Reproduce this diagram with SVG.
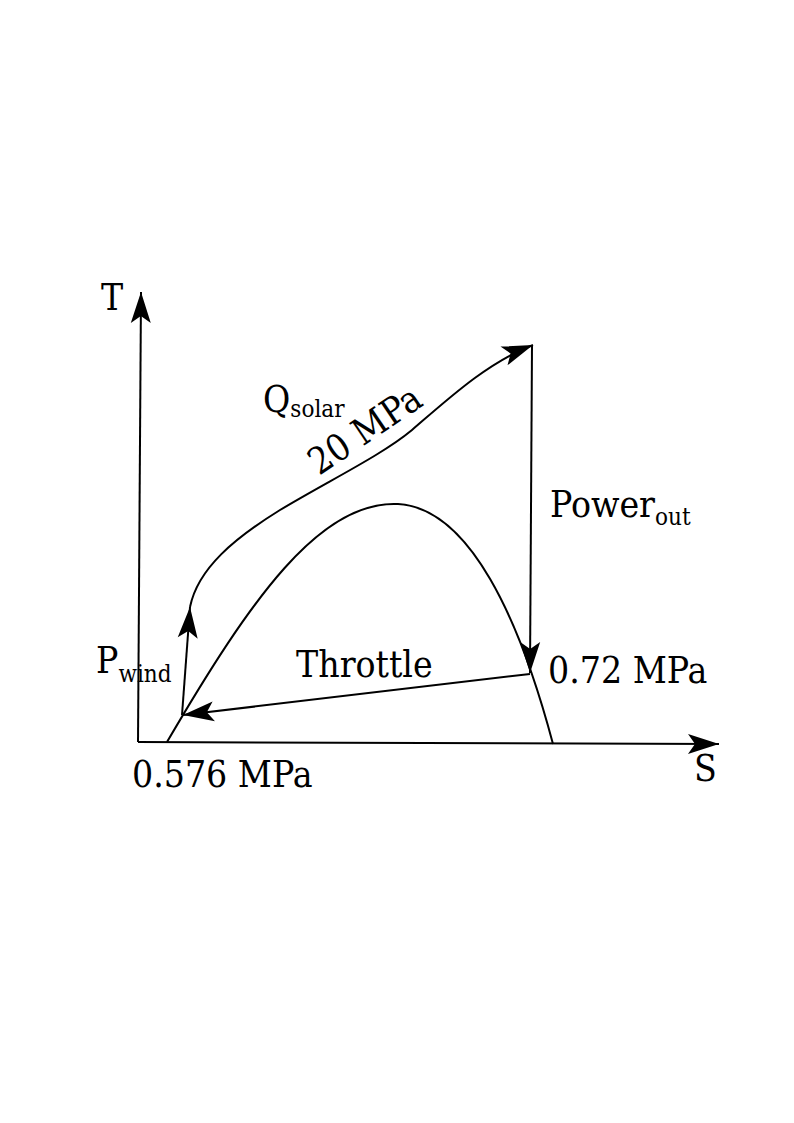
<svg xmlns="http://www.w3.org/2000/svg" width="794" height="1123" viewBox="0 0 794 1123">
<style>
.ln{fill:none;stroke:#000;stroke-width:2}
.t{font-family:"DejaVu Serif Condensed","DejaVu Serif","Liberation Serif",serif;font-stretch:condensed;font-size:37px;fill:#000}
.sub{font-size:24px}
</style>
<defs>
<marker id="ah" markerUnits="userSpaceOnUse" markerWidth="40" markerHeight="30" viewBox="-32 -15 40 30" refX="0" refY="0" orient="auto">
<path d="M0,0 L-31,-10 L-24,0 L-31,10 Z" fill="#000"/>
</marker>
</defs>
<rect width="794" height="1123" fill="#fff"/>
<g id="axes">
<path class="ln" d="M138,742 L141,292" marker-end="url(#ah)"/>
<path class="ln" d="M138,742 L719,744" marker-end="url(#ah)"/>
<text class="t" x="101" y="310">T</text>
<text class="t" x="694" y="781">S</text>
</g>
<g id="dome">
<path class="ln" d="M167,742 C250,600 320,500 398,504 C470,508 520,620 553,744"/>
</g>
<g id="connectors">
<path class="ln" d="M182,715 L190,607" marker-end="url(#ah)"/>
<path class="ln" d="M190,607 C198,568 235,538 280,510 C330,480 382,455 412,430 C448,399 488,362 533,345" marker-end="url(#ah)"/>
<path class="ln" d="M532,345 L530,673" marker-end="url(#ah)"/>
<path class="ln" d="M530,674 L183,715" marker-end="url(#ah)"/>
</g>
<g id="labels">
<text class="t" x="263" y="412">Q<tspan class="sub" dy="5">solar</tspan></text>
<text class="t" transform="translate(319,476) rotate(-34)">20 MPa</text>
<text class="t" x="550" y="517">Power<tspan class="sub" dy="8">out</tspan></text>
<text class="t" x="548" y="683">0.72 MPa</text>
<text class="t" x="296" y="677">Throttle</text>
<text class="t" x="96" y="673">P<tspan class="sub" dy="9">wind</tspan></text>
<text class="t" x="132" y="787">0.576 MPa</text>
</g>
</svg>
